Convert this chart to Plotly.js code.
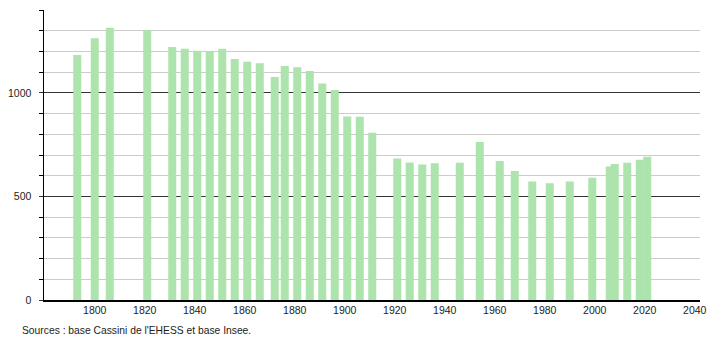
<!DOCTYPE html>
<html>
<head>
<meta charset="utf-8">
<script src="https://cdn.plot.ly/plotly-3.0.1.min.js"></script>
<style>html,body{margin:0;padding:0;background:#fff;}#chart{width:710px;height:340px;}</style>
</head>
<body>
<div id="chart"></div>
<script>
const years = [1793,1800,1806,1821,1831,1836,1841,1846,1851,1856,1861,1866,1872,1876,1881,1886,1891,1896,1901,1906,1911,1921,1926,1931,1936,1946,1954,1962,1968,1975,1982,1990,1999,2006,2008,2013,2018,2021];
const population = [1183,1264,1314,1304,1221,1213,1203,1198,1213,1164,1150,1143,1077,1130,1124,1105,1045,1014,886,885,808,683,664,654,660,662,763,671,623,572,564,572,590,644,657,663,677,692];
const xTickVals = [1800,1820,1840,1860,1880,1900,1920,1940,1960,1980,2000,2020,2040];
const yTickVals = [0,500,1000];
const sourceText = "Sources : base Cassini de l'EHESS et base Insee.";

const trace = {
  type: 'bar',
  x: years,
  y: population,
  width: 3.2,
  marker: {color: '#ade3ad', line: {width: 0}},
  hoverinfo: 'x+y'
};

const layout = {
  width: 710, height: 340,
  margin: {l: 44, r: 10, t: 10, b: 40, pad: 0},
  paper_bgcolor: '#fff', plot_bgcolor: '#fff',
  showlegend: false,
  font: {family: 'Liberation Sans, Arial, sans-serif', size: 10.5, color: '#222'},
  xaxis: {
    range: [1779.7, 2042.1],
    tickvals: xTickVals,
    ticktext: xTickVals.map(String),
    showgrid: false, zeroline: false,
    showline: true, linecolor: '#000', linewidth: 1.5,
    ticks: '', ticklabelstandoff: 0
  },
  yaxis: {
    range: [0, 1400],
    tickvals: yTickVals,
    ticktext: yTickVals.map(String),
    showgrid: true, gridcolor: '#333', gridwidth: 1,
    zeroline: false,
    showline: true, linecolor: '#000', linewidth: 1.5,
    ticks: 'outside', ticklen: 4, tickcolor: '#333',
    ticklabelstandoff: 5,
    minor: {dtick: 100, tick0: 0, showgrid: true, gridcolor: '#cccccc', gridwidth: 1, ticks: 'outside', ticklen: 4, tickcolor: '#000'}
  },
  annotations: [{
    text: sourceText, xref: 'paper', yref: 'paper',
    x: -24/656, y: 0, xanchor: 'left', yanchor: 'middle',
    yshift: -30, showarrow: false,
    font: {family: 'Liberation Sans, Arial, sans-serif', size: 10.3, color: '#222'}
  }]
};

Plotly.newPlot('chart', [trace], layout, {displayModeBar: false, staticPlot: true});
</script>
</body>
</html>
